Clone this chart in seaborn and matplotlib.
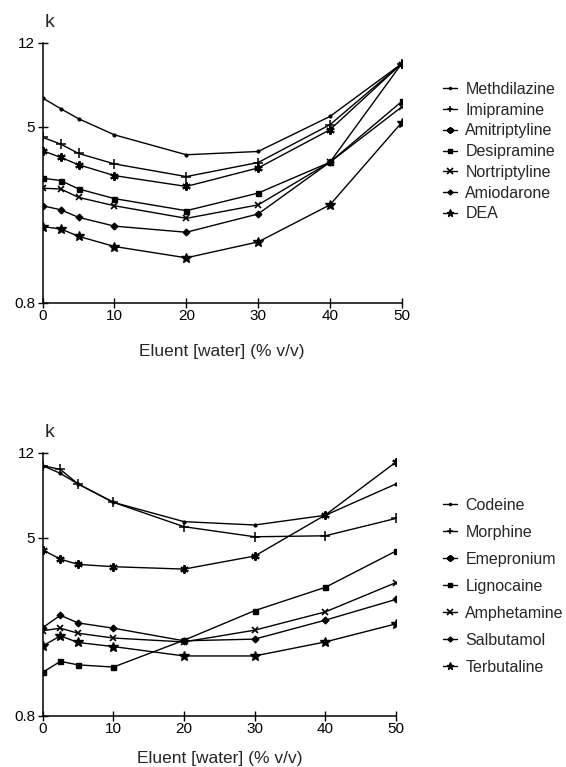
import matplotlib
matplotlib.use("Agg")
import matplotlib.pyplot as plt
from matplotlib.ticker import FixedLocator, FixedFormatter, NullLocator
import pandas as pd
import seaborn as sns

# Eluent composition (% v/v water)
water = [0, 2.5, 5, 10, 20, 30, 40, 50]

# Capacity factors k, upper panel
upper_names = ["Methdilazine", "Imipramine", "Amitriptyline", "Desipramine",
               "Nortriptyline", "Amiodarone", "DEA"]
methdilazine = [6.75, 6.04, 5.44, 4.60, 3.74, 3.87, 5.57, 9.65]
imipramine = [4.48, 4.18, 3.79, 3.40, 2.98, 3.45, 5.11, 9.65]
amitriptyline = [3.90, 3.64, 3.37, 3.01, 2.69, 3.26, 4.85, 9.65]
desipramine = [2.93, 2.86, 2.62, 2.37, 2.09, 2.51, 3.46, 6.51]
nortriptyline = [2.64, 2.62, 2.40, 2.20, 1.93, 2.22, 3.46, 6.15]
amiodarone = [2.20, 2.11, 1.95, 1.78, 1.67, 2.02, 3.46, 9.65]
dea = [1.77, 1.73, 1.60, 1.44, 1.28, 1.51, 2.22, 5.23]

# Capacity factors k, lower panel
lower_names = ["Codeine", "Morphine", "Emepronium", "Lignocaine",
               "Amphetamine", "Salbutamol", "Terbutaline"]
codeine = [10.5, 9.7, 8.7, 7.2, 5.9, 5.7, 6.3, 8.7]
morphine = [10.5, 10.1, 8.7, 7.2, 5.6, 5.05, 5.1, 6.1]
emepronium = [4.41, 4.01, 3.80, 3.71, 3.62, 4.14, 6.32, 10.9]
lignocaine = [1.25, 1.40, 1.35, 1.32, 1.74, 2.36, 3.00, 4.36]
amphetamine = [1.92, 1.97, 1.87, 1.78, 1.71, 1.93, 2.33, 3.15]
salbutamol = [1.98, 2.25, 2.08, 1.97, 1.73, 1.76, 2.14, 2.65]
terbutaline = [1.64, 1.82, 1.70, 1.63, 1.48, 1.48, 1.71, 2.06]

y_ticks = [0.8, 5, 12]
y_ticklabels = ["0.8", "5", "12"]
x_ticks = [0, 10, 20, 30, 40, 50]
x_label = "Eluent [water] (% v/v)"
y_label = "k"

sns.set_theme(style="ticks")
plt.rcParams["font.family"] = ["Liberation Sans", "DejaVu Sans"]

# marker, size, edge width for the seven series of each panel
marker_cycle = ["o", "+", (6, 2, 0), "s", "x", "D", "*"]
size_cycle = [2.0, 6.5, 6.0, 3.6, 5.0, 3.4, 7.0]
mew_cycle = [1.0, 1.1, 1.5, 1.0, 1.2, 1.0, 1.0]


def long_frame(names, series):
    rows = []
    for name, vals in zip(names, series):
        for x, k in zip(water, vals):
            rows.append({"water": x, "k": k, "compound": name})
    return pd.DataFrame(rows)


def panel(ax, names, series, legend_top, row_gap, label_pad):
    df = long_frame(names, series)
    sns.lineplot(data=df, x="water", y="k", style="compound",
                 style_order=names, markers=False, dashes=False,
                 color="black", linewidth=1.0, legend=False, sort=False,
                 estimator=None, ax=ax)
    for line, m, ms, mew in zip(ax.lines, marker_cycle, size_cycle, mew_cycle):
        line.set_marker(m)
        line.set_markersize(ms)
        line.set_markeredgewidth(mew)
        line.set_markeredgecolor("black")
        line.set_markerfacecolor("black")

    ax.set_yscale("log")
    ax.set_xlim(0, 50)
    ax.set_ylim(0.8, 12)
    ax.yaxis.set_major_locator(FixedLocator(y_ticks))
    ax.yaxis.set_major_formatter(FixedFormatter(y_ticklabels))
    ax.yaxis.set_minor_locator(NullLocator())
    ax.set_xticks(x_ticks)
    ax.set_xticklabels([str(t) for t in x_ticks])
    ax.tick_params(axis="both", direction="inout", length=7, width=1.0,
                   labelsize=11, colors="black")
    ax.tick_params(axis="y", pad=2)
    ax.tick_params(axis="x", pad=1)
    for side in ("top", "right"):
        ax.spines[side].set_visible(False)
    for side in ("left", "bottom"):
        ax.spines[side].set_linewidth(1.1)
        ax.spines[side].set_color("black")
    ax.set_xlabel(x_label, fontsize=12.5, labelpad=label_pad)
    ax.set_ylabel("")
    ax.text(0.005, 1.045, y_label, transform=ax.transAxes, fontsize=14,
            ha="left", va="bottom")

    leg = ax.legend(handles=list(ax.lines), labels=names, loc="upper left",
                    bbox_to_anchor=(443 / 566, 1 - legend_top / 767),
                    bbox_transform=ax.figure.transFigure, frameon=False,
                    fontsize=11.5, handlelength=0.85, handletextpad=0.55,
                    labelspacing=row_gap, borderpad=0, borderaxespad=0,
                    markerscale=0.75)
    return leg


fig = plt.figure(figsize=(5.66, 7.67), dpi=100)
ax_top = fig.add_axes([42.7 / 566, 1 - 303 / 767, 359 / 566, 260.3 / 767])
ax_bot = fig.add_axes([42.7 / 566, 1 - 715.7 / 767, 353.3 / 566, 263 / 767])

panel(ax_top,
      upper_names,
      [methdilazine, imipramine, amitriptyline, desipramine,
       nortriptyline, amiodarone, dea],
      legend_top=82, row_gap=0.36, label_pad=15)
panel(ax_bot,
      lower_names,
      [codeine, morphine, emepronium, lignocaine,
       amphetamine, salbutamol, terbutaline],
      legend_top=498, row_gap=0.75, label_pad=11)

fig.savefig("out.png", dpi=100, facecolor="white")
